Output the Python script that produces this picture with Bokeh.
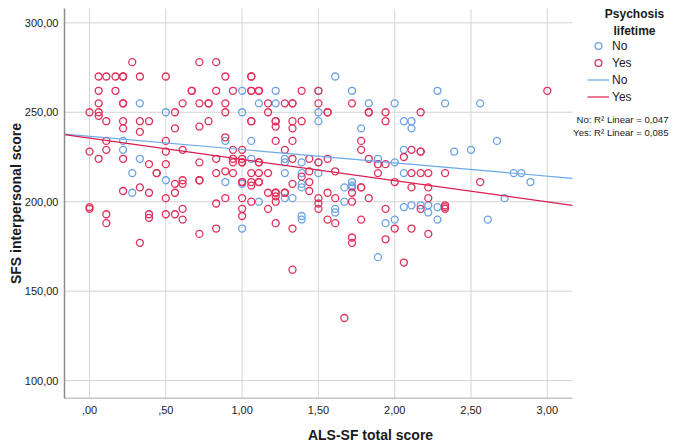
from bokeh.plotting import figure
from bokeh.models import FixedTicker, Range1d, Label, Legend, LegendItem
from bokeh.embed import file_html
from bokeh.resources import INLINE

FONT = "Liberation Sans"

# ---- data ----
no_x = [0.33, 0.50, 0.22, 0.22, 0.33, 0.28, 0.50, 0.28, 1.00, 1.22, 1.61, 1.11, 1.22, 1.00, 1.50,
        1.50, 0.89, 1.06, 1.06, 1.28, 1.28, 1.39, 1.28, 1.39, 1.50, 0.89, 1.00, 1.39, 1.39, 1.11,
        1.28, 1.33, 1.39, 1.39, 1.61, 1.00, 1.72, 1.83, 2.00, 2.28, 2.33, 2.06, 2.11, 1.78, 2.11,
        2.06, 2.39, 1.89, 2.00, 2.06, 1.67, 1.67, 1.72, 1.72, 1.72, 2.06, 2.11, 2.17, 2.22, 2.22,
        2.28, 1.61, 2.28, 1.94, 2.00, 1.89, 2.56, 2.50, 2.67, 2.78, 2.83, 2.89, 2.72, 2.61, 1.50,
        1.50]
no_y = [255, 250, 234, 229, 224, 216, 212, 205, 262, 262, 270, 255, 255, 250, 250,
        245, 234, 234, 224, 224, 222, 222, 216, 216, 216, 211, 210, 210, 208, 200,
        202, 202, 192, 190, 196, 185, 262, 255, 255, 262, 255, 245, 245, 241, 241,
        229, 228, 224, 222, 216, 208, 200, 211, 209, 208, 197, 198, 198, 198, 194,
        197, 194, 190, 188, 190, 169, 255, 229, 234, 216, 216, 211, 202, 190, 222,
        262]

yes_x = [0.28, 0.72, 0.83,
         0.06, 0.11, 0.17, 0.22, 0.22, 0.33, 0.50,
         0.06, 0.17, 0.67, 0.67,
         0.06, 0.22, 0.22, 0.61, 0.72,
         0.00, 0.06, 0.06, 0.56,
         0.11, 0.22, 0.33, 0.39,
         0.22, 0.56, 0.33,
         0.11, 0.50,
         0.00, 0.11, 0.50, 0.61,
         0.06, 0.22,
         0.39, 0.50, 0.72,
         0.44, 0.44,
         0.56, 0.61, 0.61, 0.72,
         0.22, 0.33, 0.39, 0.56,
         0.50,
         0.00, 0.00,
         0.11, 0.11, 0.39, 0.39, 0.50, 0.56, 0.61, 0.61,
         0.33, 0.72,
         0.89, 1.06, 1.06,
         0.83, 0.94, 1.06, 1.06, 1.11, 1.11, 1.39, 1.50,
         0.78, 0.78, 0.89, 1.17, 1.28, 1.33, 1.33, 1.50,
         0.89, 1.17, 1.56, 1.56,
         0.78, 1.06, 1.06, 1.22, 1.22, 1.33, 1.39,
         0.72, 1.22, 1.33,
         0.89,
         1.22, 1.33,
         0.94, 1.00, 1.28,
         0.83, 0.94, 0.94, 1.00, 1.00, 1.00, 1.11, 1.11, 1.33, 1.44, 1.50, 1.56,
         0.72,
         0.83, 0.89, 0.94, 1.06, 1.11, 1.17, 1.44, 1.61, 1.39,
         1.00, 1.00, 1.06, 1.11, 1.11, 1.06,
         1.17, 1.22, 1.22, 1.22, 1.28, 1.28,
         1.33, 1.44, 1.44, 1.56,
         0.83, 0.89, 1.00, 1.06, 1.22,
         1.50, 1.50, 1.50, 1.61,
         1.00, 1.00, 1.17, 1.56,
         0.83, 1.22, 1.33,
         1.33,
         1.72,
         1.83, 1.83, 1.94, 2.17,
         1.94,
         1.78, 1.78, 2.11, 2.17, 2.17,
         1.83, 1.89, 1.89, 1.94, 2.06,
         1.89, 2.11, 2.17, 2.22, 2.33,
         2.00,
         1.72, 1.72, 1.78, 1.78, 1.83, 2.11, 2.22, 2.22,
         2.17, 2.33, 2.33, 2.33,
         1.94,
         1.61, 1.78,
         2.00, 2.11, 2.22,
         1.72, 1.72, 1.94,
         2.06,
         1.67,
         3.00, 2.56]
yes_y = [278, 278, 278,
         270, 270, 270, 270, 270, 270, 270,
         262, 262, 262, 262,
         255, 255, 255, 255, 255,
         250, 250, 248, 250,
         245, 245, 245, 245,
         241, 241, 239,
         234, 234,
         228, 229, 228, 229,
         224, 224,
         221, 221, 222,
         216, 216,
         210, 212, 210, 212,
         206, 208, 205, 205,
         202,
         197, 196,
         193, 188, 193, 191, 193, 193, 196, 190,
         177, 182,
         270, 270, 270,
         262, 262, 262, 262, 262, 262, 262, 262,
         255, 255, 255, 255, 255, 255, 255, 255,
         250, 250, 250, 250,
         245, 245, 245, 245, 245, 245, 245,
         242, 242, 241,
         236,
         234, 234,
         229, 229, 229,
         224, 224, 222, 224, 222, 222, 222, 222, 224, 224, 222, 224,
         212,
         216, 217, 216, 216, 216, 216, 217, 217, 214,
         211, 211, 211, 211, 211, 209,
         205, 205, 205, 203, 205, 205,
         210, 211, 206, 205,
         199, 202, 202, 200, 200,
         202, 199, 196, 202,
         196, 192, 196, 190,
         185, 188, 185,
         162,
         255,
         250, 250, 250, 250,
         245,
         234, 229, 229, 228, 228,
         224, 221, 221, 221, 225,
         216, 216, 216, 216, 216,
         211,
         205, 200, 208, 208, 202, 208, 208, 202,
         196, 198, 197, 196,
         196,
         188, 190,
         185, 185, 182,
         180, 177, 179,
         166,
         135,
         262, 211]

# linear fit lines (intercept, slope)
no_fit = (236.6, -7.44)
yes_fit = (235.5, -11.87)
r2_no = "0,047"
r2_yes = "0,085"

x_ticks = [0, 0.5, 1, 1.5, 2, 2.5, 3]
x_labels = [",00", ",50", "1,00", "1,50", "2,00", "2,50", "3,00"]
y_ticks = [100, 150, 200, 250, 300]
y_labels = ["100,00", "150,00", "200,00", "250,00", "300,00"]

BLUE = "#6aa2e6"
RED = "#e0305a"
BLUE_LINE = "#6aa8e8"
RED_LINE = "#d81e50"
TXT = "#1a1a1a"
GRID = "#d4d4d4"
AXIS = "#8c8c8c"

# data region of the chart; the frame continues to the right to hold the legend
X0, X1 = -0.164, 3.165
Y0, Y1 = 90, 308
FRAME_W = 612.0
DATA_W = 508.0
X_END = X0 + (X1 - X0) * FRAME_W / DATA_W

p = figure(width=676, height=446, x_range=Range1d(X0, X_END), y_range=Range1d(Y0, Y1),
           output_backend="svg", toolbar_location=None,
           min_border_left=64, min_border_right=0, min_border_top=8, min_border_bottom=48)
p.xgrid.visible = False
p.ygrid.visible = False
p.outline_line_color = None

# grid lines limited to the data region
p.segment(x0=x_ticks, y0=[Y0] * len(x_ticks), x1=x_ticks, y1=[Y1] * len(x_ticks),
          line_color=GRID, line_width=1, level="underlay")
p.segment(x0=[X0] * len(y_ticks), y0=y_ticks, x1=[X1] * len(y_ticks), y1=y_ticks,
          line_color=GRID, line_width=1, level="underlay")
# bottom axis line of the data region
p.segment(x0=[X0], y0=[Y0], x1=[X1], y1=[Y0], line_color=AXIS, line_width=1.5)

r_no = p.scatter(no_x, no_y, marker="circle", size=7, fill_color=None, line_color=BLUE, line_width=1.3)
r_yes = p.scatter(yes_x, yes_y, marker="circle", size=7, fill_color=None, line_color=RED, line_width=1.3)

fit_x = [X0, X1]
l_no = p.line(fit_x, [no_fit[0] + no_fit[1] * v for v in fit_x], line_color=BLUE_LINE, line_width=1.2)
l_yes = p.line(fit_x, [yes_fit[0] + yes_fit[1] * v for v in fit_x], line_color=RED_LINE, line_width=1.2)

p.xaxis.ticker = FixedTicker(ticks=x_ticks)
p.xaxis.major_label_overrides = {t: l for t, l in zip(x_ticks, x_labels)}
p.yaxis.ticker = FixedTicker(ticks=y_ticks)
p.yaxis.major_label_overrides = {t: l for t, l in zip(y_ticks, y_labels)}

for ax in (p.xaxis, p.yaxis):
    ax.major_label_text_font = FONT
    ax.major_label_text_font_size = "11px"
    ax.major_label_text_color = TXT
    ax.axis_label_text_font = FONT
    ax.axis_label_text_font_size = "14px"
    ax.axis_label_text_font_style = "bold"
    ax.axis_label_text_color = TXT
    ax.major_tick_out = 0
    ax.major_tick_in = 0
    ax.minor_tick_out = 0
    ax.minor_tick_in = 0

p.xaxis.axis_line_color = None
p.yaxis.axis_line_color = AXIS
p.yaxis.axis_line_width = 1.5
p.xaxis.axis_label = "ALS-SF total score"
p.yaxis.axis_label = "SFS interpersonal score"
p.xaxis.major_label_standoff = 7
p.xaxis.axis_label_standoff = 10
p.yaxis.major_label_standoff = 6
p.yaxis.axis_label_standoff = -2
p.background_fill_color = "white"
p.border_fill_color = "white"

# ---- legend (right part of the frame) ----
legend = Legend(items=[LegendItem(label="No", renderers=[r_no]),
                       LegendItem(label="Yes", renderers=[r_yes]),
                       LegendItem(label="No", renderers=[l_no]),
                       LegendItem(label="Yes", renderers=[l_yes])],
                location=(523, 293), orientation="vertical",
                glyph_width=22, glyph_height=17, label_height=17, spacing=-2,
                padding=0, margin=0, label_standoff=3,
                label_text_font=FONT, label_text_font_size="12px", label_text_color=TXT,
                border_line_color=None, background_fill_alpha=0)
p.add_layout(legend)

for txt, yy in (("Psychosis", 385), ("lifetime", 368)):
    p.add_layout(Label(x=570, y=yy, x_units="screen", y_units="screen", text=txt,
                       text_font=FONT, text_font_size="12px", text_font_style="bold",
                       text_align="center", text_baseline="middle", text_color=TXT))

for txt, yy in (("No: R\u00b2 Linear = " + r2_no, 279), ("Yes: R\u00b2 Linear = " + r2_yes, 266)):
    p.add_layout(Label(x=604, y=yy, x_units="screen", y_units="screen", text=txt,
                       text_font=FONT, text_font_size="9.6px",
                       text_align="right", text_baseline="middle", text_color=TXT))

open("out.html", "w").write(file_html(p, INLINE))
